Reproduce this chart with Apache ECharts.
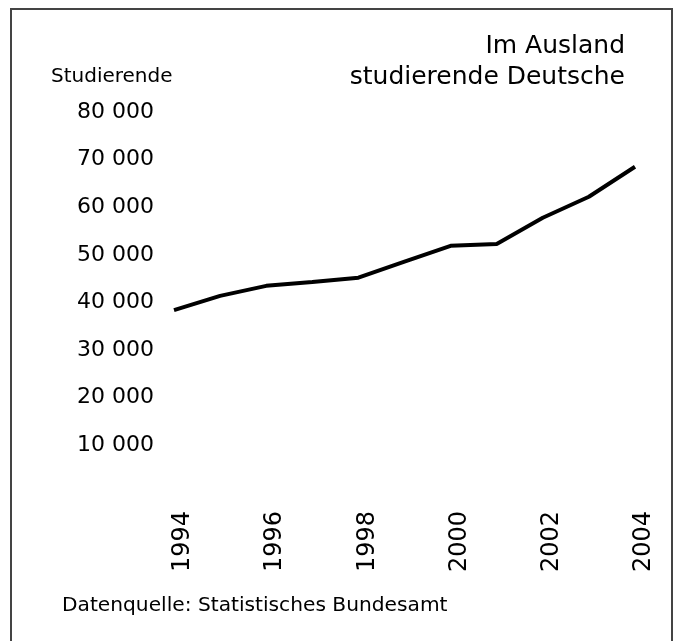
<!DOCTYPE html>
<html>
<head>
<meta charset="utf-8">
<script src="https://cdn.jsdelivr.net/npm/echarts@6/dist/echarts.min.js"></script>
<style>
  html, body { margin: 0; padding: 0; background: #fff; }
  #chart { width: 675px; height: 641px; }
</style>
</head>
<body>
<div id="chart"></div>
<script>
// Jahre und Anzahl der im Ausland studierenden Deutschen
var years = ['1994', '1995', '1996', '1997', '1998', '1999', '2000', '2001', '2002', '2003', '2004']
var students = [38400, 41400, 43500, 44300, 45200, 48600, 51900, 52300, 57800, 62200, 68500]
var yTicks = [0, 10000, 20000, 30000, 40000, 50000, 60000, 70000, 80000]

var font = 'DejaVu Sans'

function fmt (v) {
  // 80000 -> "80 000"
  var s = String(v)
  return s.replace(/\B(?=(\d{3})+(?!\d))/g, ' ')
}

var chart = echarts.init(document.getElementById('chart'))
var option = {
  backgroundColor: '#fff',
  animation: false,
  title: [
    {
      text: 'Im Ausland\nstudierende Deutsche',
      left: 625,
      top: 31,
      padding: 0,
      textAlign: 'right',
      textStyle: { fontFamily: font, fontSize: 25, fontWeight: 'normal', color: '#000', lineHeight: 31 }
    },
    {
      text: 'Studierende',
      left: 51,
      top: 67,
      padding: 0,
      textStyle: { fontFamily: font, fontSize: 20, fontWeight: 'normal', color: '#000' }
    },
    {
      text: 'Datenquelle: Statistisches Bundesamt',
      left: 62,
      top: 596,
      padding: 0,
      textStyle: { fontFamily: font, fontSize: 20.2, fontWeight: 'normal', color: '#000' }
    }
  ],
  graphic: [
    {
      type: 'rect',
      shape: { x: 11, y: 9, width: 661, height: 645 },
      style: { fill: 'none', stroke: '#444', lineWidth: 2 },
      silent: true
    }
  ],
  grid: { left: 174, right: 40, top: 112, bottom: 148 },
  xAxis: {
    type: 'category',
    data: years,
    boundaryGap: false,
    axisLine: { show: false },
    axisTick: { show: false },
    splitLine: { show: false },
    axisLabel: {
      interval: 1,
      rotate: 90,
      margin: 18,
      verticalAlign: 'top',
      lineHeight: 18,
      fontFamily: font,
      fontSize: 24,
      color: '#000'
    }
  },
  yAxis: {
    type: 'value',
    min: yTicks[0],
    max: yTicks[yTicks.length - 1],
    interval: 10000,
    axisLine: { show: false },
    axisTick: { show: false },
    splitLine: { show: false },
    axisLabel: {
      showMinLabel: false,
      margin: 20,
      fontFamily: font,
      fontSize: 22,
      color: '#000',
      formatter: function (v) { return fmt(v) }
    }
  },
  series: [
    {
      name: 'Studierende',
      type: 'line',
      data: students,
      symbol: 'none',
      lineStyle: { color: '#000', width: 4 }
    }
  ]
}
chart.setOption(option)
</script>
</body>
</html>
